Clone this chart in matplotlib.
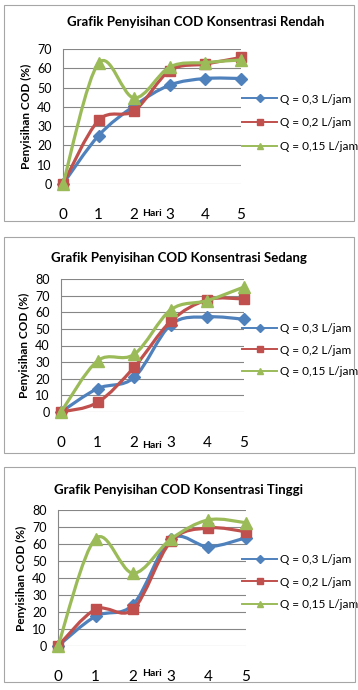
import matplotlib.pyplot as plt
import numpy as np
from matplotlib.path import Path
from matplotlib.patches import PathPatch, Rectangle
from matplotlib.lines import Line2D

plt.rcParams['font.family'] = ['Lato', 'DejaVu Sans']

# Data
hari = [0, 1, 2, 3, 4, 5]
seri = ['Q = 0,3 L/jam', 'Q = 0,2 L/jam', 'Q = 0,15 L/jam']

rendah_03 = [0, 25.1, 40.5, 51.3, 54.7, 54.7]
rendah_02 = [0, 33.0, 38.0, 58.8, 62.2, 65.6]
rendah_015 = [0, 62.7, 44.6, 60.7, 63.0, 64.3]

sedang_03 = [0, 14.1, 20.8, 52.5, 57.2, 55.8]
sedang_02 = [0, 5.8, 27.0, 54.6, 67.5, 68.0]
sedang_015 = [0, 30.8, 34.7, 61.5, 67.0, 75.2]

tinggi_03 = [0, 17.5, 24.4, 62.9, 58.4, 63.7]
tinggi_02 = [0, 21.6, 21.6, 61.5, 69.4, 67.2]
tinggi_015 = [0, 63.2, 42.8, 62.9, 74.2, 72.5]

judul = ['Grafik Penyisihan COD Konsentrasi Rendah',
         'Grafik Penyisihan COD Konsentrasi Sedang',
         'Grafik Penyisihan COD Konsentrasi Tinggi']
data = [(rendah_03, rendah_02, rendah_015),
        (sedang_03, sedang_02, sedang_015),
        (tinggi_03, tinggi_02, tinggi_015)]
ymax = [70, 80, 80]

warna = ['#4F81BD', '#C0504D', '#9BBB59']
marker = ['D', 's', '^']
ukuran = [6.5, 7.5, 8]

W, H = 358, 690
fig = plt.figure(figsize=(W / 100, H / 100), dpi=100, facecolor='white')

# layout dalam piksel: (kiri, kanan, atas, bawah) area plot, kotak luar, posisi judul, legenda
plot_px = [(63, 241, 49, 184), (61, 244, 279, 412), (58, 246, 510, 646)]
kotak_px = [(4, 354, 5, 221), (4, 354, 237, 453), (4, 355, 467, 682)]
judul_px = [(196, 22), (179, 258), (179, 490)]
hari_px = [(152, 213), (152, 445), (152, 673)]
legend_px = [(242, 123), (242, 350), (242, 582)]
spasi = [1.1, 0.9, 0.95]


def kurva(ax, x, y, color, z):
    # kurva halus gaya Excel (Bezier Catmull-Rom)
    pts = np.column_stack([x, y]).astype(float)
    n = len(pts)
    verts = [pts[0]]
    codes = [Path.MOVETO]
    for i in range(n - 1):
        p0 = pts[max(i - 1, 0)]
        p1 = pts[i]
        p2 = pts[i + 1]
        p3 = pts[min(i + 2, n - 1)]
        verts += [p1 + (p2 - p0) / 6, p2 - (p3 - p1) / 6, p2]
        codes += [Path.CURVE4] * 3
    ax.add_patch(PathPatch(Path(verts, codes), fill=False, edgecolor=color,
                           lw=2.3, capstyle='round', joinstyle='round',
                           zorder=z, clip_on=False))


for k in range(3):
    l, r, t, b = plot_px[k]
    ax = fig.add_axes([l / W, 1 - b / H, (r - l) / W, (b - t) / H])

    kl, kr, kt, kb = kotak_px[k]
    fig.patches.append(Rectangle((kl / W, 1 - kb / H), (kr - kl) / W, (kb - kt) / H,
                                 transform=fig.transFigure, fill=False,
                                 edgecolor='#A6A6A6', lw=0.8))

    for j in range(3):
        y = data[k][j]
        z = 3 + j
        kurva(ax, hari, y, warna[j], z)
        ax.plot(hari, y, ls='none', marker=marker[j], ms=ukuran[j],
                color=warna[j], zorder=z + 0.5, clip_on=False)

    ax.set_xlim(0, 5)
    ax.set_ylim(0, ymax[k])
    ax.set_yticks(np.arange(0, ymax[k] + 1, 10))
    ax.set_xticks(hari)
    ax.grid(axis='y', color='#868686', lw=0.8)
    ax.set_axisbelow(True)
    for s in ['top', 'right', 'bottom']:
        ax.spines[s].set_visible(False)
    ax.spines['left'].set_color('#868686')
    ax.tick_params(axis='y', length=0, pad=8, labelsize=9)
    ax.tick_params(axis='x', length=0, pad=17, labelsize=11)
    ax.set_ylabel('Penyisihan COD (%)', fontsize=8.5, fontweight='bold', labelpad=4)

    tx, ty = judul_px[k]
    fig.text(tx / W, 1 - ty / H, judul[k], ha='center', va='center',
             fontsize=9.5, fontweight='bold')
    hx, hy = hari_px[k]
    fig.text(hx / W, 1 - hy / H, 'Hari', ha='center', va='center',
             fontsize=7.5, fontweight='bold')

    handles = [Line2D([], [], color=warna[j], lw=1.4, marker=marker[j],
                      ms=ukuran[j] * 0.6) for j in range(3)]
    lx, ly = legend_px[k]
    ax.legend(handles, seri, loc='center left',
              bbox_to_anchor=(lx / W, 1 - ly / H), bbox_transform=fig.transFigure,
              frameon=False, fontsize=8.5, handlelength=3.0, handletextpad=0.2,
              labelspacing=spasi[k], borderpad=0, borderaxespad=0)

fig.savefig('out.png', dpi=100, facecolor='white')
